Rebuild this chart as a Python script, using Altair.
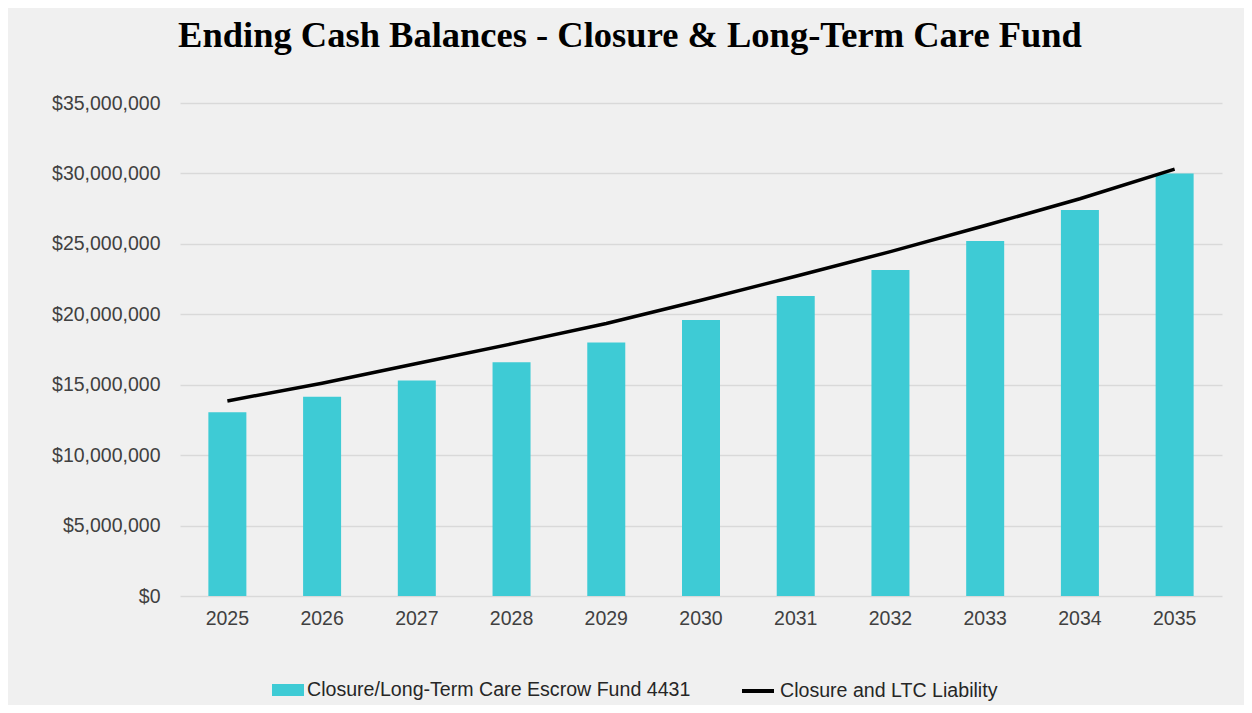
import altair as alt
import pandas as pd

years = ["2025", "2026", "2027", "2028", "2029", "2030", "2031", "2032", "2033", "2034", "2035"]
fund = [13050000, 14150000, 15300000, 16600000, 18000000, 19600000, 21300000, 23150000, 25200000, 27400000, 30000000]
liability = [13850000, 15100000, 16500000, 17900000, 19350000, 21000000, 22700000, 24450000, 26300000, 28200000, 30300000]
bar_name = "Closure/Long-Term Care Escrow Fund 4431"
line_name = "Closure and LTC Liability"

df = pd.DataFrame({
    "year": years,
    "fund": fund,
    "liability": liability,
    "bar_series": [bar_name] * len(years),
    "line_series": [line_name] * len(years),
})

TEAL = "#3ECBD5"
BG = "#F0F0F0"
GRID = "#D9D9D9"
TXT = "#404040"

x = alt.X("year:N", sort=years, title=None,
          axis=alt.Axis(labelAngle=0, labelFontSize=19.5, labelColor=TXT, labelFont="Liberation Sans",
                        labelPadding=13, ticks=False, domain=False, grid=False))

bars = alt.Chart(df).mark_bar(size=38).encode(
    x=x,
    y=alt.Y("fund:Q", title=None,
            scale=alt.Scale(domain=[0, 35000000], nice=False),
            axis=alt.Axis(values=[0, 5000000, 10000000, 15000000, 20000000, 25000000, 30000000, 35000000],
                          format="$,.0f", labelFontSize=19.5, labelColor=TXT, labelFont="Liberation Sans",
                          labelPadding=20, ticks=False, domain=False, grid=True,
                          gridColor=GRID, gridWidth=1.5)),
    fill=alt.Fill("bar_series:N", title=None,
                  scale=alt.Scale(domain=[bar_name], range=[TEAL]),
                  legend=alt.Legend(orient="none", legendX=92, legendY=571, direction="horizontal",
                                    symbolType="M-1,-0.375L1,-0.375L1,0.375L-1,0.375Z",
                                    symbolSize=1024, symbolStrokeWidth=0, labelFontSize=19.6,
                                    labelFont="Liberation Sans", labelColor="#262626", labelOffset=3,
                                    labelLimit=0, padding=0)),
)

line = alt.Chart(df).mark_line(strokeWidth=3.5).encode(
    x=x,
    y=alt.Y("liability:Q"),
    stroke=alt.Stroke("line_series:N", title=None,
                      scale=alt.Scale(domain=[line_name], range=["#000000"]),
                      legend=alt.Legend(orient="none", legendX=560, legendY=570, direction="horizontal",
                                        symbolType="stroke", symbolSize=1024, symbolStrokeWidth=4,
                                        labelFontSize=19.6, labelFont="Liberation Sans",
                                        labelColor="#262626", labelOffset=4, labelLimit=0, padding=0)),
)

chart = alt.layer(bars, line).resolve_scale(fill="independent", stroke="independent").properties(
    width=1042,
    height=493,
    background=BG,
    padding={"left": 172, "top": 95, "right": 22, "bottom": 109},
    autosize=alt.AutoSizeParams(type="none"),
    title=alt.TitleParams("Ending Cash Balances - Closure & Long-Term Care Fund",
                          font="Liberation Serif", fontSize=36.5, fontWeight="bold", color="#000000",
                          anchor="middle", dx=-71, offset=39),
).configure_view(stroke=None)

chart.save("out.html", embed_options={"renderer": "svg", "actions": False})
